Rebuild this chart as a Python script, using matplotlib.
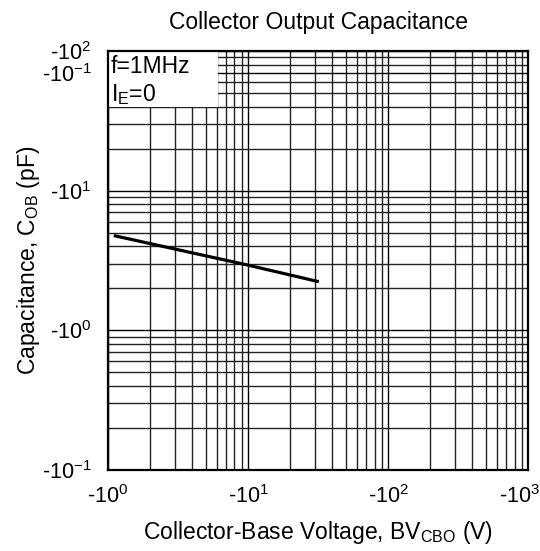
import matplotlib
matplotlib.use("Agg")
import matplotlib.pyplot as plt
from matplotlib.ticker import LogLocator, NullFormatter
from matplotlib.patches import Rectangle
from matplotlib.transforms import ScaledTranslation

plt.rcParams['font.family'] = ['Liberation Sans', 'DejaVu Sans']
plt.rcParams['mathtext.fontset'] = 'custom'
plt.rcParams['mathtext.rm'] = 'Liberation Sans'
plt.rcParams['mathtext.it'] = 'Liberation Sans'

voltage = [1.1, 10, 32]
capacitance = [4.77, 2.93, 2.23]

xticks = [1, 10, 100, 1000]
xticklabels = [r'-10$^{\mathregular{0}}$', r'-10$^{\mathregular{1}}$',
               r'-10$^{\mathregular{2}}$', r'-10$^{\mathregular{3}}$']
yticks = [0.1, 1, 10, 70, 100]
yticklabels = [r'-10$^{\mathregular{-1}}$', r'-10$^{\mathregular{0}}$',
               r'-10$^{\mathregular{1}}$', r'-10$^{\mathregular{-1}}$',
               r'-10$^{\mathregular{2}}$']

fig = plt.figure(figsize=(5.4, 5.51), dpi=100)
ax = fig.add_axes([0.2, 0.147, 0.778, 0.7604])
ax.set_xscale('log')
ax.set_yscale('log')
ax.set_xlim(1, 1000)
ax.set_ylim(0.1, 100)

ax.xaxis.set_minor_locator(LogLocator(base=10, subs=range(2, 10)))
ax.yaxis.set_minor_locator(LogLocator(base=10, subs=range(2, 10)))
ax.xaxis.set_minor_formatter(NullFormatter())
ax.yaxis.set_minor_formatter(NullFormatter())
ax.set_xticks(xticks)
ax.set_xticklabels(xticklabels, fontsize=15.5)
ax.set_yticks(yticks)
ax.set_yticklabels(yticklabels, fontsize=15.5)
ax.tick_params(which='both', length=0)
ax.tick_params(axis='x', pad=11)
ax.tick_params(axis='y', pad=12)
ax.grid(which='major', color='black', linewidth=1.0)
ax.grid(which='minor', color='#222222', linewidth=1.0)
ax.set_axisbelow(True)

last = ax.get_xticklabels()[-1]
last.set_horizontalalignment('right')
last.set_transform(last.get_transform() + ScaledTranslation(0.12, 0, fig.dpi_scale_trans))

for s in ax.spines.values():
    s.set_linewidth(1.6)

ax.plot(voltage, capacitance, color='black', linewidth=2.3, solid_capstyle='butt', zorder=3)

ax.add_patch(Rectangle((0, 0.866), 0.262, 0.134, transform=ax.transAxes,
                       facecolor='white', edgecolor='none', zorder=2.5))
ax.text(0.006, 0.9625, 'f=1MHz', transform=ax.transAxes, ha='left', va='center',
        fontsize=16.5, zorder=4)
ax.text(0.006, 0.897, r'I$_{\mathregular{E}}$=0', transform=ax.transAxes, ha='left',
        va='center', fontsize=16.5, zorder=4)

ax.set_title('Collector Output Capacitance', fontsize=16.5, pad=16)
ax.set_xlabel(r'Collector-Base Voltage, BV$_{\mathregular{CBO}}$ (V)', fontsize=16.5, labelpad=8)
ax.set_ylabel(r'Capacitance, C$_{\mathregular{OB}}$ (pF)', fontsize=16.5, labelpad=0)

fig.savefig('out.png', dpi=100)
